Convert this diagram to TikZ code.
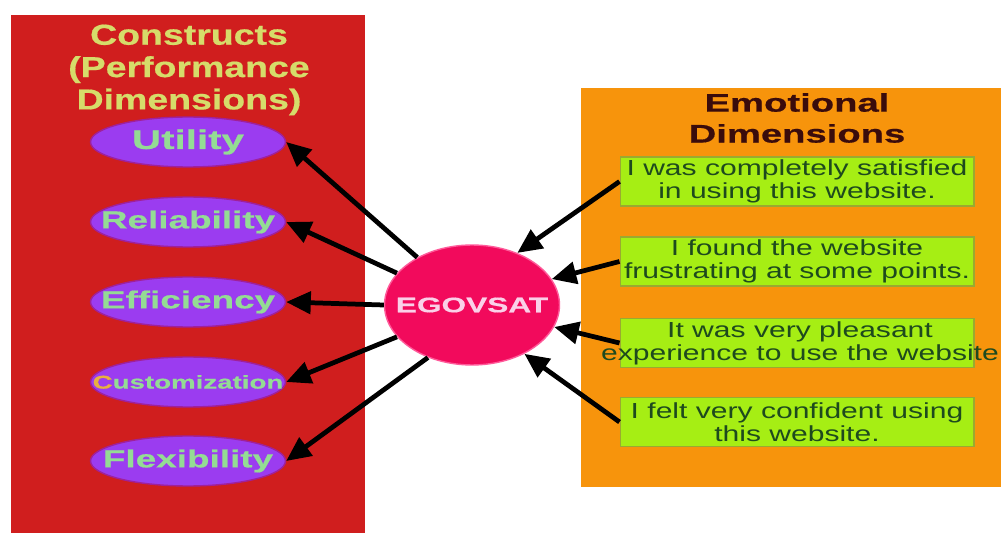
\documentclass[tikz,border=0pt]{standalone}
\usepackage{fontspec}
\setmainfont{Liberation Sans}
\newfontfamily\headfont[FakeStretch=1.5,FakeBold=0.6]{Liberation Sans}
\newfontfamily\tallfont[FakeStretch=1.3,FakeBold=0.6]{Liberation Sans}
\newfontfamily\boxfont[FakeStretch=1.38]{Liberation Sans}
\usetikzlibrary{arrows.meta,shapes.geometric}
\definecolor{panelred}{HTML}{D01E1E}
\definecolor{panelorange}{HTML}{F7940C}
\definecolor{purp}{HTML}{9B3CF0}
\definecolor{purpedge}{HTML}{A0209A}
\definecolor{lgreen}{HTML}{94DC94}
\definecolor{headyellow}{HTML}{D6DC6A}
\definecolor{egovfill}{HTML}{F20A5C}
\definecolor{egovedge}{HTML}{FF5A9A}
\definecolor{egovtext}{HTML}{FAD0E8}
\definecolor{limefill}{HTML}{A6EE14}
\definecolor{limeedge}{HTML}{9AAA30}
\definecolor{dgreen}{HTML}{1E4A1E}
\definecolor{emohead}{HTML}{3A0C0C}
\definecolor{corange}{HTML}{E8B040}
\tikzset{
  construct/.style={ellipse, fill=purp, draw=purpedge, line width=0.8pt,
    minimum width=3.9cm, minimum height=1cm, inner sep=0pt},
  ctext/.style={inner sep=0pt, text=lgreen,
    font=\headfont\bfseries\fontsize{14}{16}\selectfont},
  stmt/.style={rectangle, fill=limefill, draw=limeedge, line width=0.6pt,
    minimum width=7.08cm, minimum height=0.98cm, inner sep=0pt},
  stmttext/.style={align=center, text=dgreen, inner sep=0pt,
    font=\boxfont\fontsize{12.4}{13}\selectfont},
  arr/.style={line width=2.7pt, -{Triangle[length=14pt,width=12.5pt]}},
}
\begin{document}
\begin{tikzpicture}[x=0.02cm,y=-0.02cm]
\useasboundingbox (0,0) rectangle (1001,533);
\fill[white] (0,0) rectangle (1001,533);
% panels
\fill[panelred] (11,15) rectangle (365,533);
\fill[panelorange] (581,88) rectangle (1001,487);
% headings
\node[align=center, text=headyellow, inner sep=0pt,
  font=\tallfont\bfseries\fontsize{16.4}{18.4}\selectfont] (h1) at (189,70)
  {Constructs\\(Performance\\Dimensions)};
\node[align=center, text=emohead, inner sep=0pt,
  font=\headfont\bfseries\fontsize{14.5}{17.6}\selectfont] (h2) at (797,118)
  {Emotional\\Dimensions};
% constructs
\node[construct] (u) at (188,142) {};
\node[construct] (r) at (188,222) {};
\node[construct] (e) at (188,302) {};
\node[construct] (c) at (188,382) {};
\node[construct] (f) at (188,461) {};
\node[ctext, font=\headfont\bfseries\fontsize{15.3}{17}\selectfont] (ut) at (u.center) {Utility};
\node[ctext] (rt) at (r.center) {Reliability};
\node[ctext] (et) at (e.center) {Efficiency};
\node[ctext, font=\headfont\bfseries\fontsize{10.5}{12}\selectfont] (ct) at (c.center) {\textcolor{corange}{C}ustomization};
\node[ctext] (ft) at (f.center) {Flexibility};
% centre
\node[ellipse, fill=egovfill, draw=egovedge, line width=0.8pt,
  minimum width=3.5cm, minimum height=2.4cm, inner sep=0pt] (eg) at (472,305) {};
\node[inner sep=0pt, text=egovtext,
  font=\headfont\bfseries\fontsize{12}{14}\selectfont] (egt) at (eg.center) {EGOVSAT};
% statements
\node[stmt] (b1) at (797,181.5) {};
\node[stmt] (b2) at (797,261.5) {};
\node[stmt] (b3) at (797,343) {};
\node[stmt] (b4) at (797,422) {};
\node[stmttext] (t1) at (b1.center) {I was completely satisfied\\in using this website.};
\node[stmttext] (t2) at (b2.center) {I found the website\\frustrating at some points.};
\node[stmttext] (t3) at ([xshift=0.06cm]b3.center) {It was very pleasant\\experience to use the website};
\node[stmttext] (t4) at (b4.center) {I felt very confident using\\this website.};
% arrows
\draw[arr] (eg.139) -- (u.east);
\draw[arr] (eg.157) -- (r.east);
\draw[arr] (eg.west) -- (e.east);
\draw[arr] (eg.203) -- (c.east);
\draw[arr] (eg.230) -- (f.east);
\draw[arr] (b1.west) -- (eg.49);
\draw[arr] (b2.west) -- (eg.18);
\draw[arr] (b3.west) -- (eg.-15);
\draw[arr] (b4.west) -- (eg.-43);
\end{tikzpicture}
\end{document}
